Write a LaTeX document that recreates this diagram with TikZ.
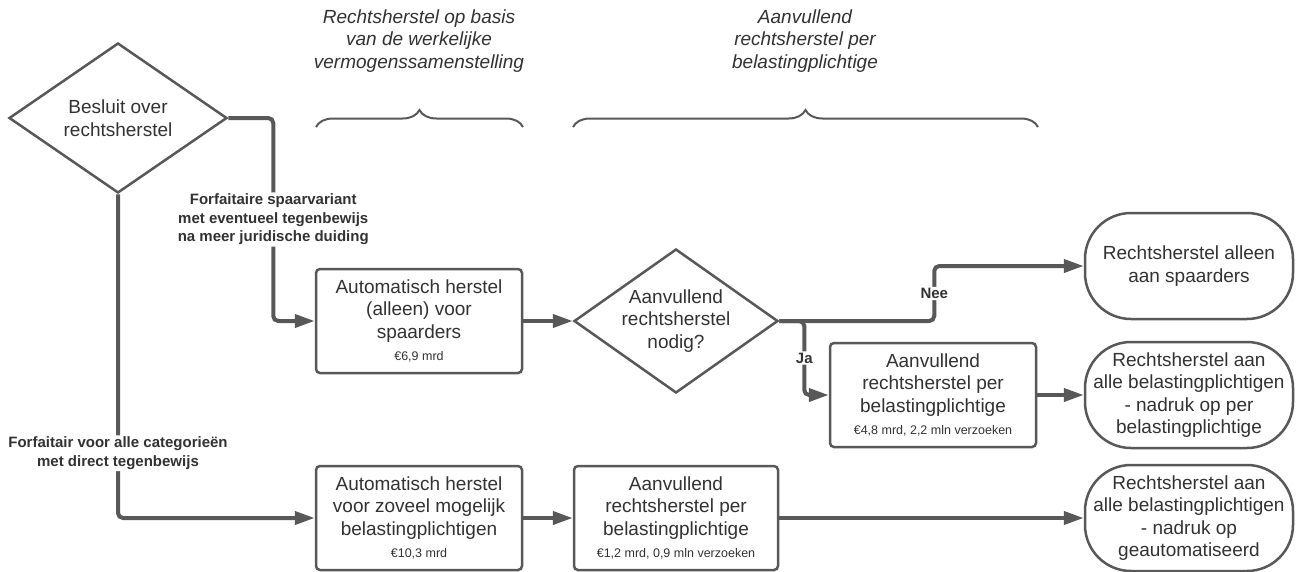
\documentclass[tikz,border=0pt]{standalone}
\usepackage{fontspec}
\setmainfont{Liberation Sans}
\usepackage{tikz}
\usetikzlibrary{shapes.geometric, arrows.meta, decorations.pathreplacing}
\definecolor{linegray}{RGB}{88, 88, 88}
\definecolor{textgray}{RGB}{50, 50, 50}
\newcommand{\amount}[1]{{\fontsize{12.5}{15}\selectfont #1}}

\begin{document}
\begin{tikzpicture}[x=1pt, y=-1pt,
    box/.style={draw=linegray, line width=2.5, rounded corners=4, text=textgray, align=center,
                inner sep=0, minimum width=206, minimum height=104, font=\fontsize{19}{22.5}\selectfont},
    ending/.style={box, rounded corners=46, minimum width=208, minimum height=106},
    choice/.style={diamond, draw=linegray, line width=2.5, text=textgray, align=center,
                   inner sep=0, shape aspect=1.42, font=\fontsize{19}{22.5}\selectfont},
    head/.style={text=textgray, align=center, font=\itshape\fontsize{19}{22.5}\selectfont},
    lbl/.style={fill=white, text=textgray, align=center, inner sep=1.5,
                font=\bfseries\fontsize{15}{18.5}\selectfont},
    conn/.style={draw=linegray, line width=4, rounded corners=5, -{Triangle[length=20pt, width=13pt]}},
    brace/.style={draw=linegray, line width=2, decorate, decoration={brace, amplitude=17pt}}]

  \fill[white] (0, 0) rectangle (1299, 571);
  \useasboundingbox (0, 0) rectangle (1299, 571);

  \node[head] (h1) at (419, 41) {Rechtsherstel op basis\\van de werkelijke\\vermogenssamenstelling};
  \node[head] (h2) at (805, 41) {Aanvullend\\rechtsherstel per\\belastingplichtige};
  \foreach \xa/\xb in {316/523, 573/1038} {
    \draw[brace] (\xa, 127) -- (\xb, 127);
  }

  \node[choice, minimum width=218, minimum height=150] (d1) at (118, 118) {Besluit over\\rechtsherstel};
  \node[choice, minimum width=204, minimum height=144] (d2) at (676, 321) {Aanvullend\\rechtsherstel\\nodig?};

  \node[box] (b1) at (419, 321) {Automatisch herstel\\(alleen) voor\\spaarders\\\amount{€6,9 mrd}};
  \node[box] (b2) at (419, 518) {Automatisch herstel\\voor zoveel mogelijk\\belastingplichtigen\\\amount{€10,3 mrd}};
  \node[box, minimum width=204] (b3) at (676, 518) {Aanvullend\\rechtsherstel per\\belastingplichtige\\\amount{€1,2 mrd, 0,9 mln verzoeken}};
  \node[box] (b4) at (933, 395) {Aanvullend\\rechtsherstel per\\belastingplichtige\\\amount{€4,8 mrd, 2,2 mln verzoeken}};

  \node[ending] (e1) at (1189, 266) {Rechtsherstel alleen\\aan spaarders};
  \node[ending] (e2) at (1189, 395) {Rechtsherstel aan\\alle belastingplichtigen\\- nadruk op per\\belastingplichtige};
  \node[ending] (e3) at (1189, 518) {Rechtsherstel aan\\alle belastingplichtigen\\- nadruk op\\geautomatiseerd};

  \draw[conn] (d1.east) -- ++(45, 0) |- node[lbl, pos=0.25] {Forfaitaire spaarvariant\\met eventueel tegenbewijs\\na meer juridische duiding} (b1.west);
  \draw[conn] (d1.south) |- node[lbl, pos=0.4] {Forfaitair voor alle categorieën\\met direct tegenbewijs} (b2.west);
  \draw[conn] (b1.east) -- (d2.west);
  \draw[conn] (b2.east) -- (b3.west);
  \draw[conn] (d2.east) -- ++(155, 0) |- node[lbl, pos=0.25] {Nee} (e1.west);
  \draw[conn] (d2.east) -- ++(25, 0) |- node[lbl, pos=0.25] {Ja} (b4.west);
  \draw[conn] (b4.east) -- (e2.west);
  \draw[conn] (b3.east) -- (e3.west);

\end{tikzpicture}
\end{document}
